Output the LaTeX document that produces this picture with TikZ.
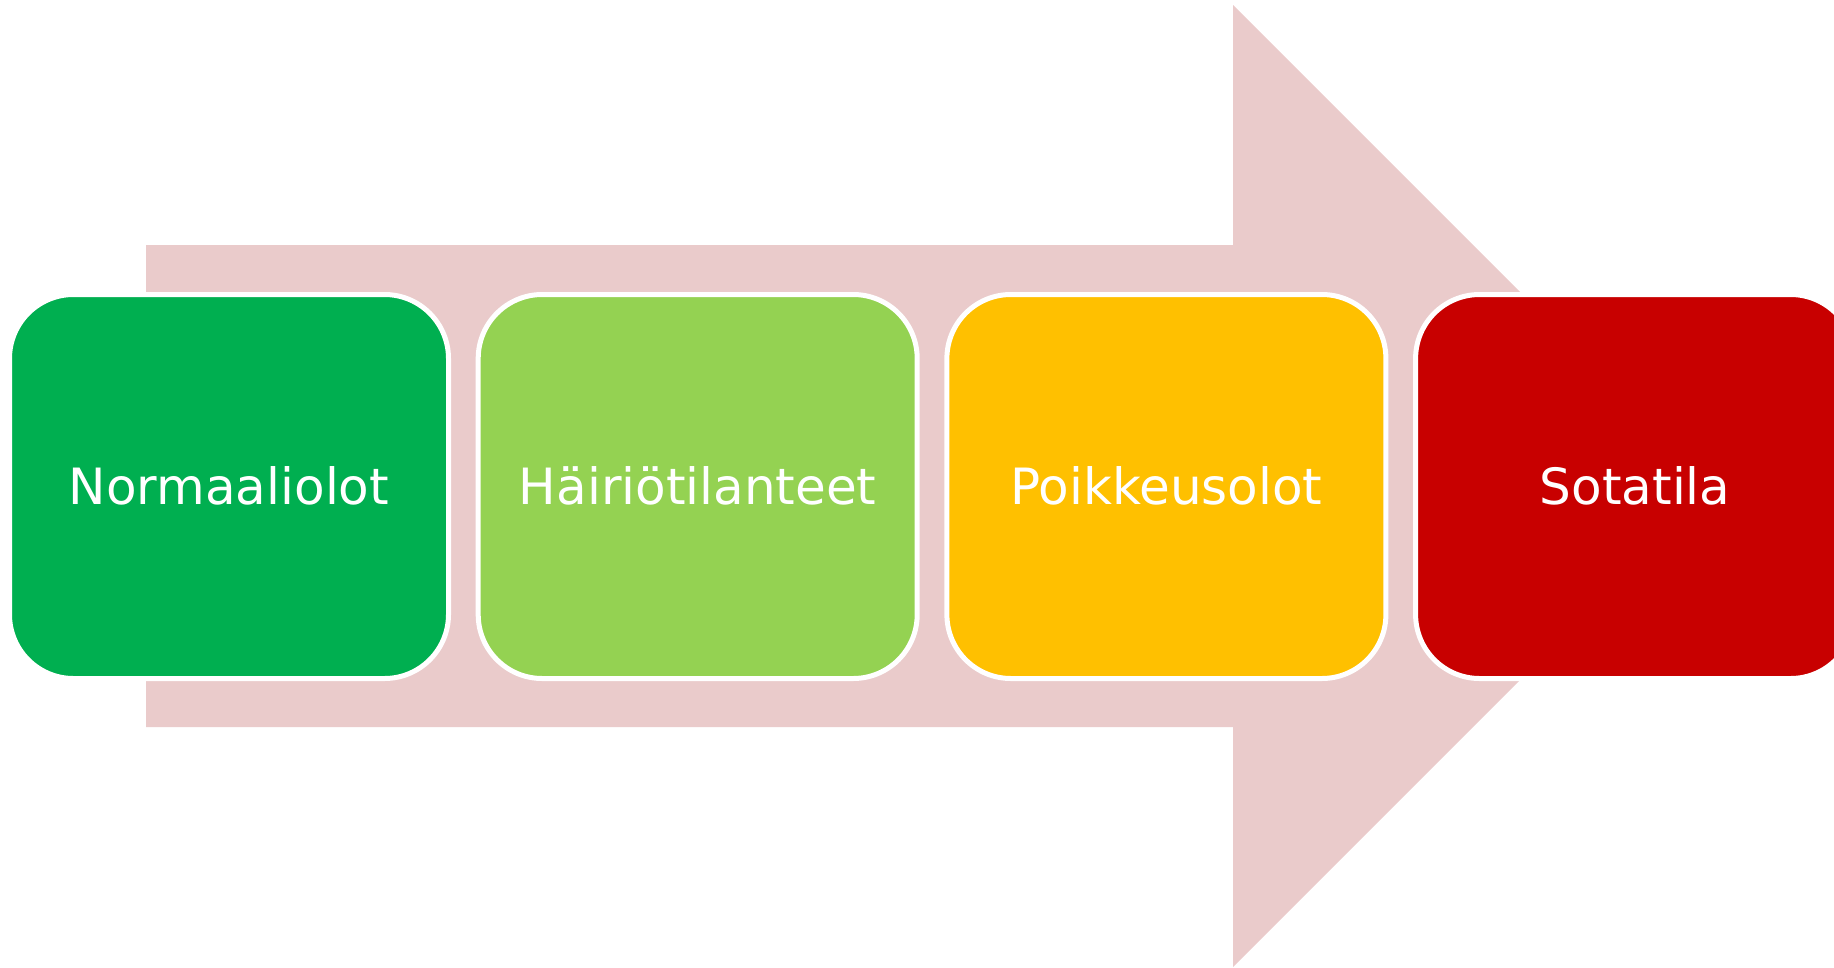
\documentclass[tikz,border=0pt]{standalone}
\usepackage{fontspec}
\setmainfont{DejaVu Sans}
\definecolor{arrowpink}{HTML}{EACBCB}
\definecolor{cgreen}{HTML}{00AF50}
\definecolor{clight}{HTML}{94D252}
\definecolor{cyellow}{HTML}{FFC000}
\definecolor{cred}{HTML}{C80000}
\tikzset{
  stage/.style={draw=white, line width=5pt, rounded corners=64pt,
    minimum width=439pt, minimum height=384pt, inner sep=0pt, outer sep=0pt,
    text=white, font=\fontsize{50}{60}\selectfont, anchor=west}
}
\newcommand{\stagetext}[1]{\raisebox{2.5pt}{#1}}
\begin{document}
\begin{tikzpicture}[x=1pt,y=-1pt]
\useasboundingbox (0,0) rectangle (1834,967);
\clip (0,0) rectangle (1834,967);
\fill[arrowpink] (146,245) -- (1233,245) -- (1233,5) -- (1714,486) -- (1233,967) -- (1233,727) -- (146,727) -- cycle;
\node[stage, fill=cgreen]  (n1) at (9.5,486.5)    {\stagetext{Normaaliolot}};
\node[stage, fill=clight]  (n2) at (478.2,486.5)  {\stagetext{Häiriötilanteet}};
\node[stage, fill=cyellow] (n3) at (946.9,486.5)  {\stagetext{Poikkeusolot}};
\node[stage, fill=cred]    (n4) at (1415.6,486.5) {\stagetext{Sotatila}};
\end{tikzpicture}
\end{document}
